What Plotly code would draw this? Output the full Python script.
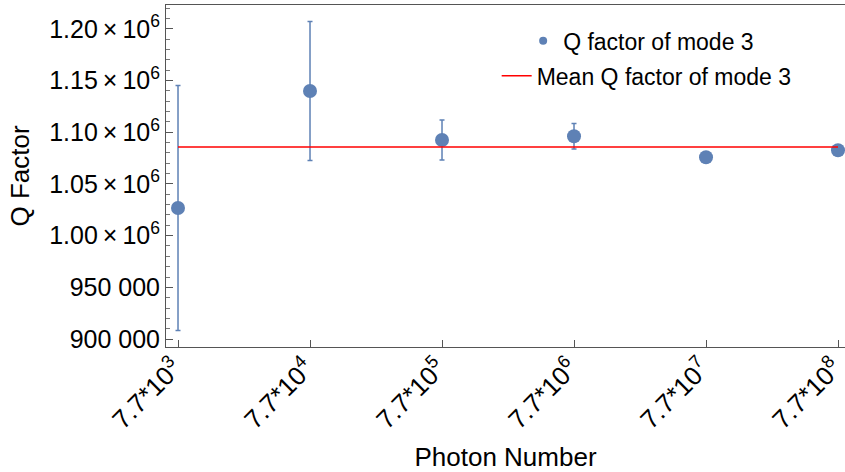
import plotly.graph_objects as go

# Data
exponents = [3, 4, 5, 6, 7, 8]
tick_labels = ["7.7*10<sup>%d</sup>\u2009" % e for e in exponents]
q_values = [1026800, 1140000, 1092600, 1096200, 1075900, 1082600]
q_errors = [118500, 67200, 19300, 12300, 2500, 1500]
mean_q = 1085800

y_ticks = [900000, 950000, 1000000, 1050000, 1100000, 1150000, 1200000]
y_tick_text = ["900 000", "950 000", "1.00\u2009×\u200910<sup>6</sup>",
               "1.05\u2009×\u200910<sup>6</sup>", "1.10\u2009×\u200910<sup>6</sup>",
               "1.15\u2009×\u200910<sup>6</sup>", "1.20\u2009×\u200910<sup>6</sup>"]

blue = "#5E81B5"
fig = go.Figure()

fig.add_trace(go.Scatter(
    x=exponents, y=q_values, mode="markers",
    marker=dict(color=blue, size=14),
    error_y=dict(type="data", array=q_errors, color=blue, thickness=1.5, width=2.5),
    showlegend=False, cliponaxis=False,
))
# legend-only entry with smaller marker
fig.add_trace(go.Scatter(
    x=[None], y=[None], mode="markers", name="Q factor of mode 3",
    marker=dict(color=blue, size=8), legend="legend",
))
fig.add_trace(go.Scatter(
    x=[exponents[0], exponents[-1]], y=[mean_q, mean_q], mode="lines",
    line=dict(color="red", width=1.5), name="Mean Q factor of mode 3",
    legend="legend2",
))

font = "Liberation Sans, Arial, sans-serif"
fig.update_layout(
    width=845, height=472,
    margin=dict(l=166, r=0, t=5, b=125),
    plot_bgcolor="white", paper_bgcolor="white",
    font=dict(family=font, color="black", size=22),
    legend=dict(x=0.526, y=0.895, xanchor="left", yanchor="middle",
                font=dict(size=23), bgcolor="rgba(0,0,0,0)"),
    legend2=dict(x=0.487, y=0.793, xanchor="left", yanchor="middle",
                 font=dict(size=23), bgcolor="rgba(0,0,0,0)"),
)
fig.update_xaxes(
    range=[2.909, 8.053], tickvals=exponents, ticktext=tick_labels,
    tickangle=-45, tickfont=dict(size=26), automargin=False,
    ticklabeloverflow="allow", ticklabelstandoff=-9,
    showline=True, linecolor="#555", linewidth=1, mirror=True,
    ticks="inside", ticklen=7, tickcolor="#555",
    showgrid=False, zeroline=False,
    title=dict(text="Photon Number", font=dict(size=26), standoff=14),
)
fig.update_yaxes(
    range=[892260, 1223200], tickvals=y_ticks, ticktext=y_tick_text,
    tickfont=dict(size=25), automargin=False,
    showline=True, linecolor="#555", linewidth=1, mirror=False,
    ticks="inside", ticklen=7, tickcolor="#555",
    minor=dict(dtick=10000, ticks="inside", ticklen=4, tickcolor="#777", showgrid=False),
    showgrid=False, zeroline=False,
    title=dict(text="Q Factor", font=dict(size=26), standoff=12),
)

fig.write_html("out.html", config={"displayModeBar": False},
               post_script="document.body.style.margin='0';")
